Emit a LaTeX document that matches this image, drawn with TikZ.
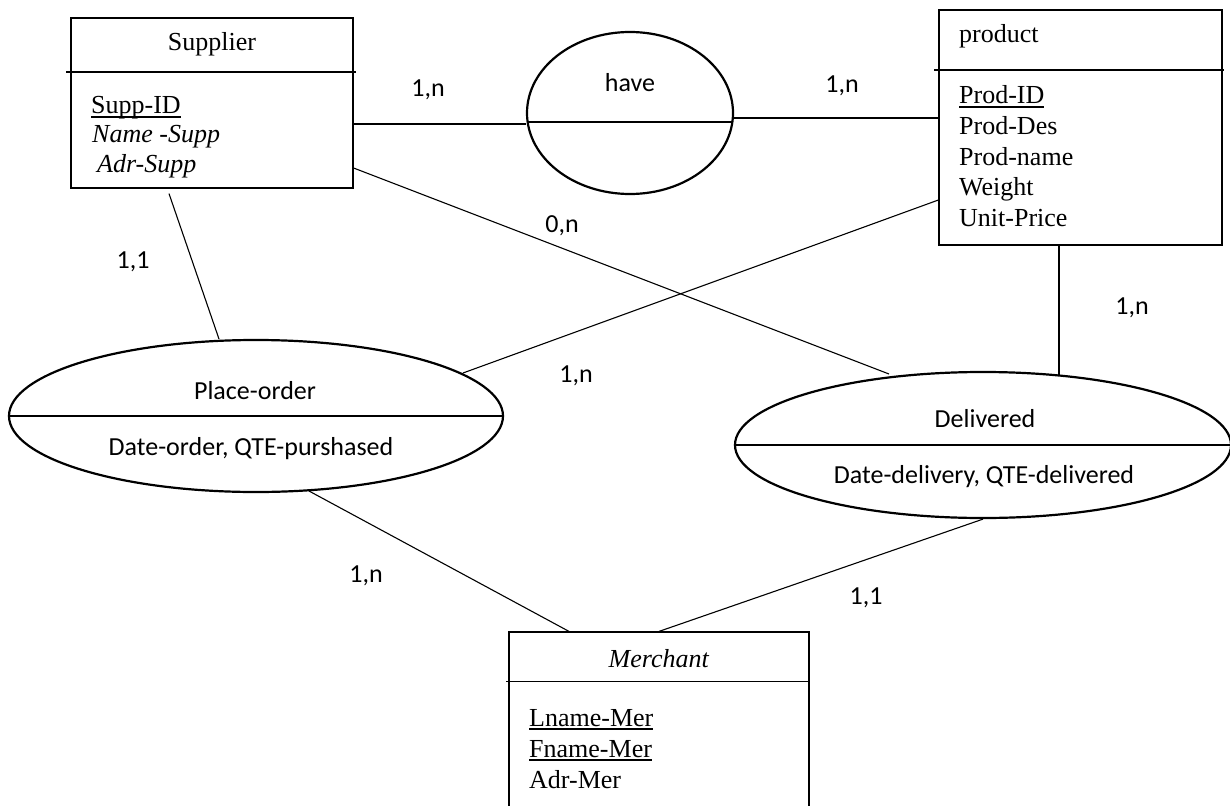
\documentclass[tikz,border=0pt]{standalone}
\usepackage{fontspec}
\setmainfont{Liberation Serif}
\newfontfamily\calfont{Carlito}
\usetikzlibrary{shapes.geometric}
\newcommand\ulin[1]{\setbox0\hbox{#1}\rlap{\rule[-3.8pt]{\wd0}{1.4pt}}\box0}
\begin{document}
\begin{tikzpicture}[x=1pt,y=-1pt,
  entity/.style={draw, line width=1.2pt, rectangle, inner sep=0pt},
  rel/.style={draw, ellipse, line width=2.2pt, inner sep=0pt},
  link/.style={line width=1.1pt},
  thickdiv/.style={line width=2.2pt},
  thindiv/.style={line width=1.2pt},
  ttl/.style={font=\fontsize{26}{30}\selectfont, inner sep=0pt, anchor=base},
  attr/.style={font=\fontsize{26}{30}\selectfont, inner sep=0pt, anchor=base west},
  rtxt/.style={font=\calfont\fontsize{26}{30}\selectfont, inner sep=0pt, anchor=base},
  card/.style={font=\calfont\fontsize{26}{30}\selectfont, inner sep=0pt, anchor=base}]
\fill[white] (0,0) rectangle (1230,805);
\useasboundingbox (0,0) rectangle (1230,805);

% entities
\node[entity, minimum width=282pt, minimum height=170pt] (sup) at (212,103) {};
\node[entity, minimum width=283pt, minimum height=235pt] (prod) at (1080.5,127.5) {};
\node[entity, minimum width=300pt, minimum height=200pt] (mer) at (659,732) {};

\draw[thindiv] ([shift={(-4pt,31pt)}]sup.west) -- ([shift={(2pt,31pt)}]sup.east);
\draw[thindiv] ([shift={(-4pt,57.5pt)}]prod.west) -- ([shift={(1pt,57.5pt)}]prod.east);
\draw[thindiv] ([shift={(-2pt,-50pt)}]mer.north west) -- ([shift={(-2pt,-50pt)}]mer.north east);

% relationships
\node[rel, minimum width=206pt, minimum height=162pt] (have) at (630,113) {};
\node[rel, minimum width=494pt, minimum height=152pt] (po) at (256,416) {};
\node[rel, minimum width=496pt, minimum height=146pt] (del) at (983,445) {};

\draw[thickdiv] ([shift={(-102.4pt,-9pt)}]have.center) -- ([shift={(102.4pt,-9pt)}]have.center);
\draw[thickdiv] (po.west) -- (po.east);
\draw[thindiv] (del.west) -- (del.east);

% connectors
\draw[link] ([yshift=-21pt]sup.east) -- ([yshift=-11pt]have.west);
\draw[link] ([yshift=-5pt]have.east) -- ([yshift=9.5pt]prod.west);
\draw[link] ([yshift=-65pt]sup.east) -- ([shift={(-94pt,71pt)}]del.center);
\draw[link] ([yshift=-72.5pt]prod.west) -- ([shift={(207pt,43pt)}]po.center);
\draw[link] ([shift={(-43pt,-5pt)}]sup.south) -- ([shift={(-37pt,77pt)}]po.center);
\draw[link] ([xshift=-21.5pt]prod.south) -- ([shift={(76pt,70pt)}]del.center);
\draw[link] ([shift={(53pt,-75pt)}]po.center) -- ([xshift=-90pt]mer.north);
\draw[link] (del.south) -- (mer.north);

% entity texts
\node[ttl] (supT) at (212,51) {Supplier};
\node[attr] (supA) at (91,114) {\ulin{Supp-ID}};
\node[attr] (supB) at (92,143) {\textit{Name -Supp}};
\node[attr] (supC) at (97,173) {\textit{Adr-Supp}};

\node[attr] (prodT) at (959,43) {product};
\node[attr] (prodA) at (959,104) {\ulin{Prod-ID}};
\node[attr] (prodB) at (959,134.5) {Prod-Des};
\node[attr] (prodC) at (959,165) {Prod-name};
\node[attr] (prodD) at (959,195.5) {Weight};
\node[attr] (prodE) at (959,226) {Unit-Price};

\node[ttl] (merT) at (659,667) {\textit{Merchant}};
\node[attr] (merA) at (529,726) {\ulin{Lname-Mer}};
\node[attr] (merB) at (529,757) {\ulin{Fname-Mer}};
\node[attr] (merC) at (529,788) {Adr-Mer};

% relationship texts
\node[rtxt] (haveT) at (630,92) {have};
\node[rtxt] (poT) at (255,399) {Place-order};
\node[rtxt] (poA) at (251,455) {Date-order, QTE-purshased};
\node[rtxt] (delT) at (985,427) {Delivered};
\node[rtxt] (delA) at (984,483) {Date-delivery, QTE-delivered};

% cardinalities
\node[card] (c1) at (428,97) {1,n};
\node[card] (c2) at (842,93) {1,n};
\node[card] (c3) at (562,232) {0,n};
\node[card] (c4) at (133,268) {1,1};
\node[card] (c5) at (576,382) {1,n};
\node[card] (c6) at (1132,314) {1,n};
\node[card] (c7) at (366,582) {1,n};
\node[card] (c8) at (866,604) {1,1};
\end{tikzpicture}
\end{document}
